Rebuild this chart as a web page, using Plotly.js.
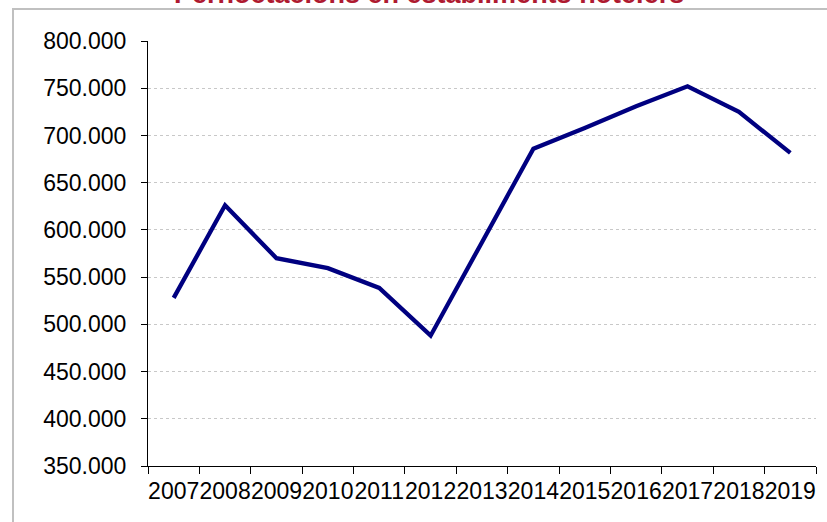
<!DOCTYPE html>
<html>
<head>
<meta charset="utf-8">
<script src="https://cdn.plot.ly/plotly-3.0.1.min.js"></script>
<style>
html,body{margin:0;padding:0;background:#fff;}
#chart{width:827px;height:522px;}
</style>
</head>
<body>
<div id="chart"></div>
<script>
var years = ["2007","2008","2009","2010","2011","2012","2013","2014","2015","2016","2017","2018","2019"];
var pernoctacions = [528000, 626000, 570000, 559500, 538500, 488000, 587000, 686000, 708000, 731000, 752000, 725000, 681500];
var titleText = "Pernoctacions en establiments hotelers";

var W = 827, H = 522;
var L = 148, R = 11, T = 41, B = 56;
var pw = W - L - R, ph = H - T - B;
function px2x(px){ return (px - L) / pw; }
function py2y(py){ return 1 - (py - T) / ph; }

var trace = {
  type: "scatter",
  mode: "lines",
  x: years,
  y: pernoctacions,
  line: {color: "#000080", width: 4.3, shape: "linear"},
  hoverinfo: "skip"
};

var layout = {
  width: W, height: H,
  margin: {l: L, r: R, t: T, b: B, pad: 0},
  paper_bgcolor: "#ffffff",
  plot_bgcolor: "#ffffff",
  showlegend: false,
  separators: ",.",
  font: {family: "Liberation Sans, Arial, sans-serif", size: 23, color: "#000000"},
  xaxis: {
    type: "category",
    range: [-0.5, years.length - 0.5],
    tickson: "boundaries",
    tickangle: 0,
    ticks: "outside",
    ticklen: 7,
    tickcolor: "#000000",
    tickwidth: 1,
    showline: true,
    linecolor: "#000000",
    linewidth: 1,
    showgrid: false,
    zeroline: false,
    ticklabelstandoff: 4,
    tickfont: {family: "Liberation Sans, Arial, sans-serif", size: 23, color: "#000000"}
  },
  yaxis: {
    range: [350000, 800000],
    dtick: 50000,
    tick0: 0,
    tickformat: ",d",
    ticks: "outside",
    ticklen: 6,
    tickcolor: "#000000",
    tickwidth: 1,
    showline: true,
    linecolor: "#000000",
    linewidth: 1,
    showgrid: true,
    gridcolor: "#c8c8c8",
    griddash: "dot",
    gridwidth: 1,
    zeroline: false,
    ticklabelstandoff: 10,
    tickfont: {family: "Liberation Sans, Arial, sans-serif", size: 23, color: "#000000"}
  },
  shapes: [
    {type: "rect", xref: "paper", yref: "paper",
     x0: px2x(13), x1: px2x(900), y0: py2y(600), y1: py2y(9),
     line: {color: "#c0c0c0", width: 2}, fillcolor: "rgba(0,0,0,0)", layer: "below"}
  ],
  annotations: [
    {text: "<b>" + titleText + "</b>", xref: "paper", yref: "paper",
     x: px2x(429), y: py2y(10.5), xanchor: "center", yanchor: "bottom",
     showarrow: false, borderpad: 0,
     font: {family: "Liberation Sans, Arial, sans-serif", size: 27, color: "#AE1A30"}}
  ]
};

Plotly.newPlot("chart", [trace], layout, {staticPlot: true, displayModeBar: false});
</script>
</body>
</html>
